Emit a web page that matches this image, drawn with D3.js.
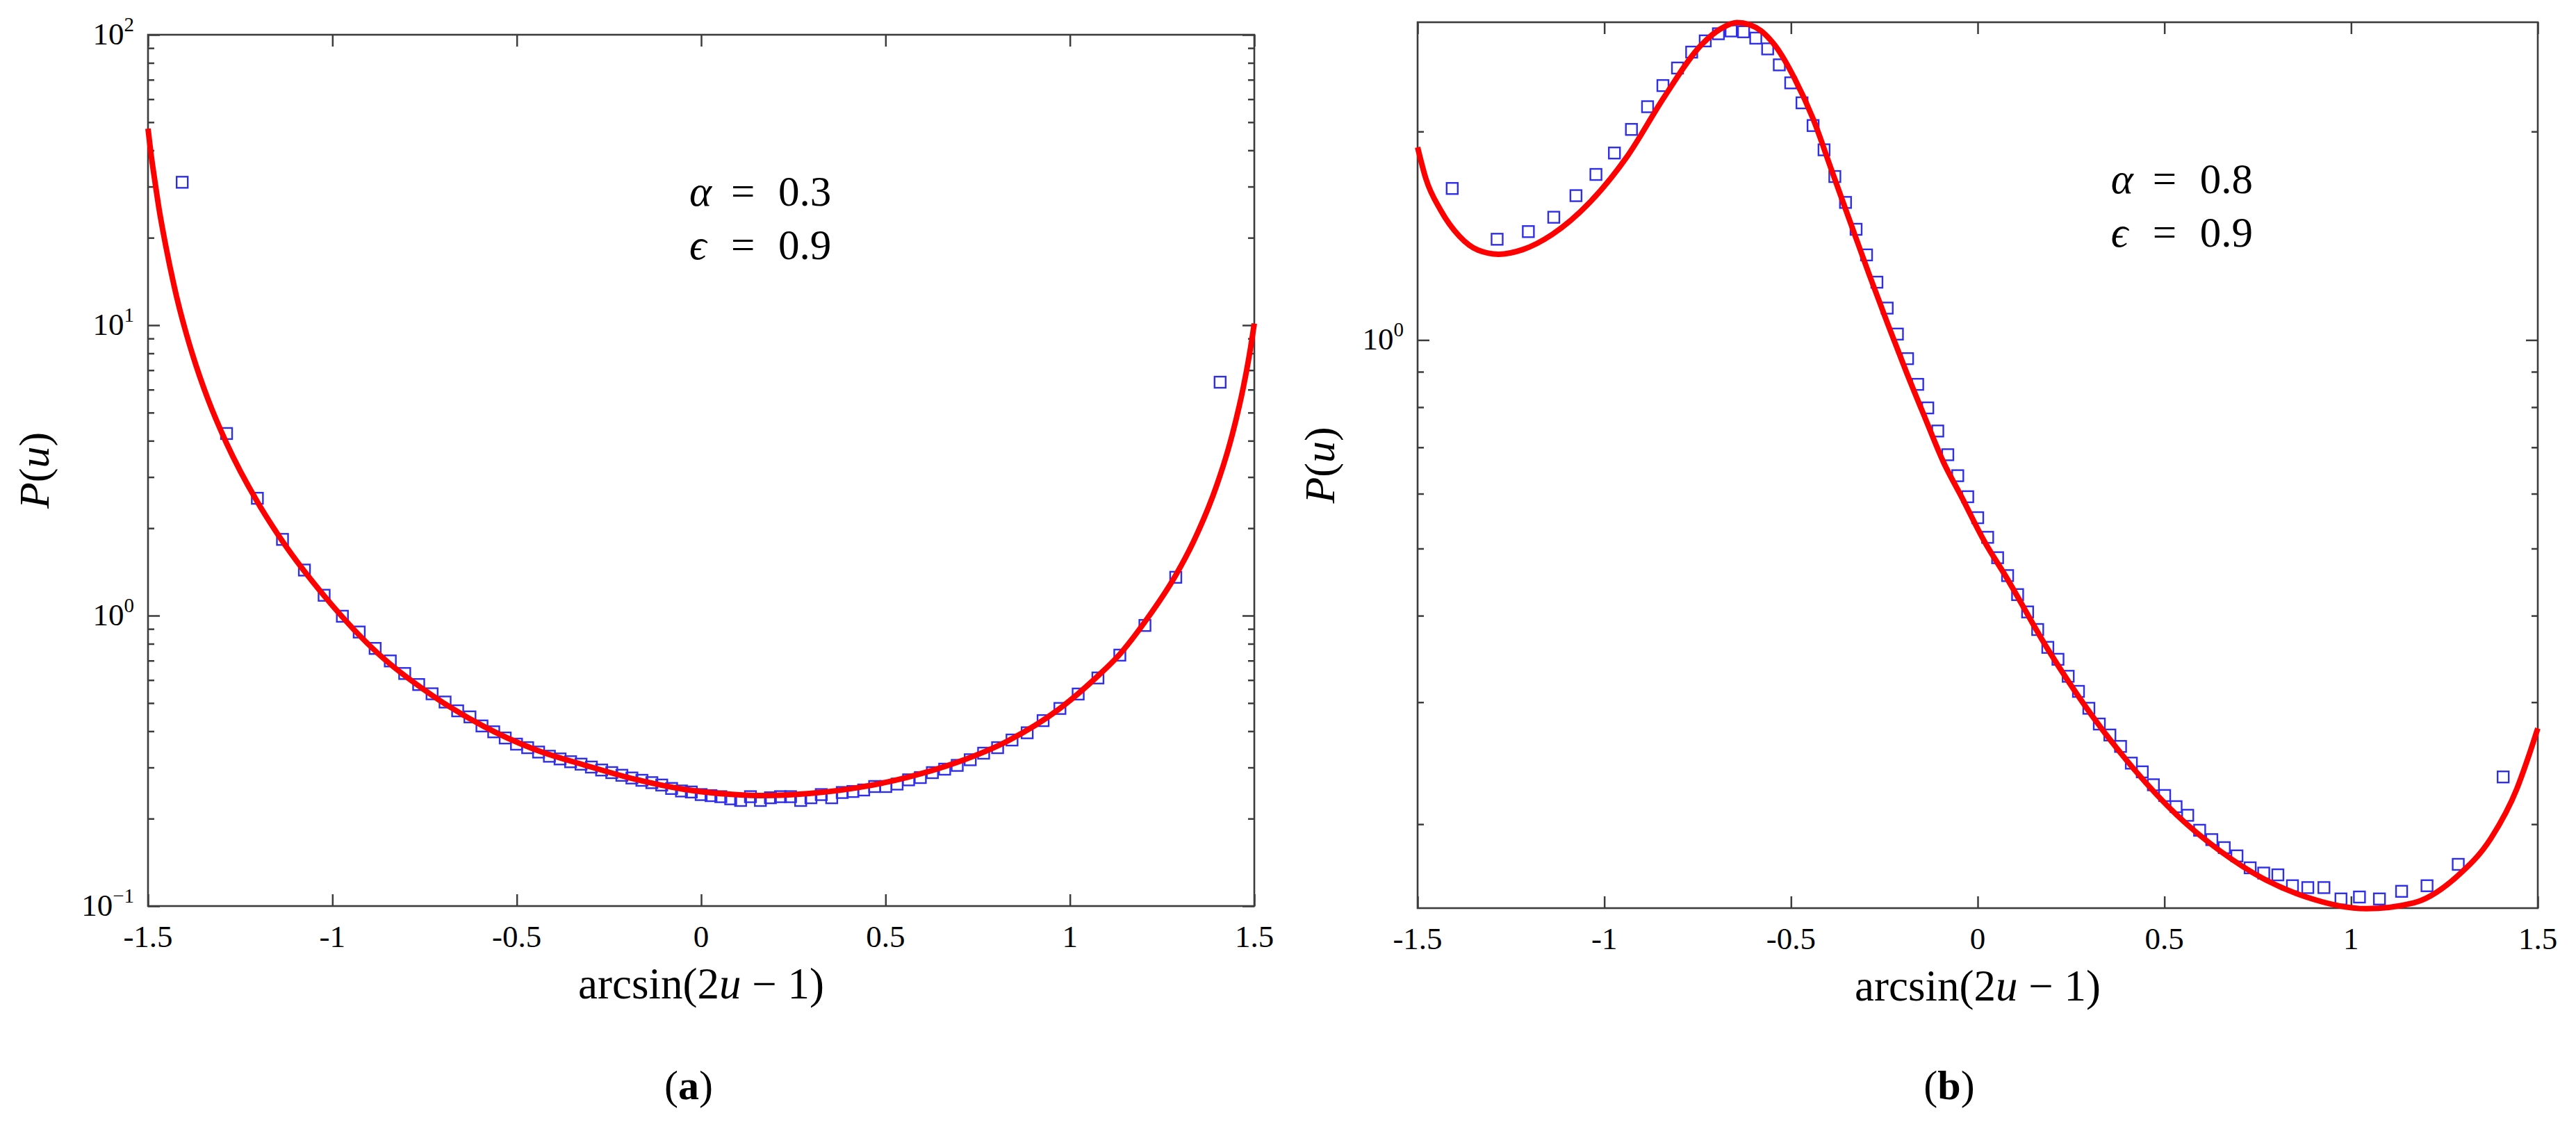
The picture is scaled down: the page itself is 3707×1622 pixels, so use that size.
<!DOCTYPE html>
<html>
<head>
<meta charset="utf-8">
<script src="https://cdn.jsdelivr.net/npm/d3@7"></script>
<style>
body { margin: 0; background: #ffffff; }
text { font-family: "Liberation Serif", "DejaVu Serif", serif; fill: #000000; }
</style>
</head>
<body>
<div id="chart"></div>
<script>
//bin centres on the arcsin(2u-1) axis, both panels use the same 75 bins
var binX = [-1.4073, -1.2870, -1.2034, -1.1353, -1.0759, -1.0224, -0.9729, -0.9273, -0.8841, -0.8430,
            -0.8039, -0.7660, -0.7297, -0.6944, -0.6603, -0.6270, -0.5944, -0.5625, -0.5313, -0.5007,
            -0.4705, -0.4408, -0.4115, -0.3826, -0.3540, -0.3257, -0.2977, -0.2699, -0.2424, -0.2150,
            -0.1878, -0.1607, -0.1337, -0.1069, -0.0801, -0.0534, -0.0267, 0,
            0.0267, 0.0534, 0.0801, 0.1069, 0.1337, 0.1607, 0.1878, 0.2150, 0.2424, 0.2699,
            0.2977, 0.3257, 0.3540, 0.3826, 0.4115, 0.4408, 0.4705, 0.5007, 0.5313, 0.5625,
            0.5944, 0.6270, 0.6603, 0.6944, 0.7297, 0.7660, 0.8039, 0.8430, 0.8841, 0.9273,
            0.9729, 1.0224, 1.0759, 1.1353, 1.2034, 1.2870, 1.4073]

//panel (a) squares, P(u)
var pointsA = [31.05, 4.236, 2.535, 1.830, 1.435, 1.175, 0.995, 0.878, 0.771, 0.698,
               0.632, 0.579, 0.538, 0.504, 0.470, 0.448, 0.417, 0.398, 0.379, 0.361,
               0.351, 0.339, 0.328, 0.321, 0.314, 0.308, 0.301, 0.294, 0.288, 0.282,
               0.276, 0.271, 0.266, 0.261, 0.254, 0.249, 0.247, 0.242, 0.240, 0.238,
               0.234, 0.231, 0.238, 0.231, 0.236, 0.238, 0.238, 0.231, 0.236, 0.242,
               0.236, 0.246, 0.248, 0.251, 0.258, 0.258, 0.263, 0.272, 0.277, 0.288,
               0.296, 0.305, 0.319, 0.336, 0.351, 0.373, 0.395, 0.435, 0.479, 0.537,
               0.610, 0.731, 0.925, 1.355, 6.363]

//panel (a) red theory curve
var curveAX = [-1.5, -1.49, -1.481, -1.47, -1.452, -1.43, -1.416, -1.40, -1.380, -1.337,
               -1.287, -1.204, -1.135, -1.020, -0.876, -0.731, -0.587, -0.448, -0.313, -0.178,
               -0.044, 0.091, 0.171, 0.293, 0.427, 0.562, 0.696, 0.831, 0.966, 1.070,
               1.133, 1.208, 1.286, 1.334, 1.397, 1.428, 1.44, 1.459, 1.47, 1.484,
               1.49, 1.5]
var curveAY = [47.5, 37.3, 31.1, 25.1, 18.8, 13.8, 11.6, 9.73, 7.98, 5.54,
               3.92, 2.47, 1.80, 1.16, 0.740, 0.533, 0.414, 0.345, 0.305, 0.273,
               0.252, 0.242, 0.240, 0.244, 0.256, 0.278, 0.313, 0.370, 0.472, 0.610,
               0.731, 0.970, 1.371, 1.786, 2.784, 3.690, 4.19, 5.25, 6.09, 7.55,
               8.38, 10.13]

//panel (b) squares
var pointsB = [1.655, 1.398, 1.434, 1.504, 1.616, 1.734, 1.862, 2.014, 2.172, 2.330,
               2.470, 2.604, 2.703, 2.768, 2.794, 2.786, 2.728, 2.632, 2.496, 2.351,
               2.200, 2.040, 1.882, 1.722, 1.580, 1.445, 1.327, 1.212, 1.112, 1.020,
               0.940, 0.863, 0.798, 0.739, 0.683, 0.637, 0.594, 0.554, 0.519, 0.485,
               0.457, 0.429, 0.405, 0.382, 0.360, 0.346, 0.327, 0.311, 0.294, 0.279,
               0.269, 0.259, 0.245, 0.238, 0.228, 0.220, 0.212, 0.206, 0.196, 0.190,
               0.185, 0.180, 0.173, 0.170, 0.169, 0.163, 0.162, 0.162, 0.156, 0.157,
               0.156, 0.160, 0.163, 0.175, 0.234]

//panel (b) red theory curve
var curveBX = [-1.5, -1.478, -1.438, -1.388, -1.338, -1.283, -1.218, -1.139, -1.039, -0.939,
               -0.839, -0.740, -0.690, -0.645, -0.610, -0.580, -0.540, -0.490, -0.441, -0.391,
               -0.341, -0.291, -0.241, -0.191, -0.141, -0.092, -0.042, 0.018, 0.074, 0.189,
               0.304, 0.419, 0.534, 0.649, 0.764, 0.880, 1.041, 1.168, 1.283, 1.375,
               1.444, 1.478, 1.5]
var curveBY = [1.898, 1.711, 1.539, 1.412, 1.348, 1.330, 1.351, 1.421, 1.580, 1.840,
               2.245, 2.668, 2.810, 2.872, 2.851, 2.794, 2.650, 2.383, 2.087, 1.757,
               1.478, 1.245, 1.055, 0.899, 0.772, 0.667, 0.592, 0.512, 0.457, 0.357,
               0.288, 0.240, 0.206, 0.183, 0.167, 0.157, 0.151, 0.154, 0.168, 0.191,
               0.225, 0.253, 0.275]

//tick values and labels
var xTicks = [-1.5, -1, -0.5, 0, 0.5, 1, 1.5]
var xTickLabels = ["-1.5", "-1", "-0.5", "0", "0.5", "1", "1.5"]
var yMajorA = [0.1, 1, 10, 100]
var yMajorLabelsA = ["\u22121", "0", "1", "2"]
var yMinorA = [0.2, 0.3, 0.4, 0.5, 0.6, 0.7, 0.8, 0.9, 2, 3, 4, 5, 6, 7, 8, 9, 20, 30, 40, 50, 60, 70, 80, 90]
var yMajorB = [1]
var yMajorLabelsB = ["0"]
var yMinorB = [0.2, 0.3, 0.4, 0.5, 0.6, 0.7, 0.8, 0.9, 2]

var axisColor = "#3c3c3c"

var svg = d3.select("#chart")
    .append("svg")
    .attr("width", 3707)
    .attr("height", 1622)

svg.append("rect").attr("width", 3707).attr("height", 1622).attr("fill", "#ffffff")

//draws one panel, box given in pixels
var drawPanel = function(cfg)
{
    var g = svg.append("g")

    var xScale = d3.scaleLinear()
                    .domain([-1.5, 1.5])
                    .range([cfg.left, cfg.right])

    var yScale = d3.scaleLog()
                    .domain(cfg.yDomain)
                    .range([cfg.bottom, cfg.top])

    //ticks point inwards on all four sides like matlab's box on
    g.append("g").attr("class", "axis")
    .attr("transform", "translate(0," + cfg.bottom + ")")
    .call(d3.axisBottom(xScale).tickValues(xTicks).tickSize(-17).tickFormat(""))

    g.append("g").attr("class", "axis")
    .attr("transform", "translate(0," + cfg.top + ")")
    .call(d3.axisTop(xScale).tickValues(xTicks).tickSize(-17).tickFormat(""))

    g.append("g").attr("class", "axis")
    .attr("transform", "translate(" + cfg.left + ",0)")
    .call(d3.axisLeft(yScale).tickValues(cfg.yMajor).tickSize(-17).tickFormat(""))

    g.append("g").attr("class", "axis")
    .attr("transform", "translate(" + cfg.left + ",0)")
    .call(d3.axisLeft(yScale).tickValues(cfg.yMinor).tickSize(-9).tickFormat(""))

    g.append("g").attr("class", "axis")
    .attr("transform", "translate(" + cfg.right + ",0)")
    .call(d3.axisRight(yScale).tickValues(cfg.yMajor).tickSize(-17).tickFormat(""))

    g.append("g").attr("class", "axis")
    .attr("transform", "translate(" + cfg.right + ",0)")
    .call(d3.axisRight(yScale).tickValues(cfg.yMinor).tickSize(-9).tickFormat(""))

    g.selectAll(".axis path.domain").remove()
    g.selectAll(".axis line")
    .attr("stroke", axisColor)
    .attr("stroke-width", 2.5)

    g.append("rect")
    .attr("x", cfg.left)
    .attr("y", cfg.top)
    .attr("width", cfg.right - cfg.left)
    .attr("height", cfg.bottom - cfg.top)
    .attr("fill", "none")
    .attr("stroke", axisColor)
    .attr("stroke-width", 2.6)

    //x tick labels
    g.selectAll("text.xtick")
    .data(xTicks)
    .enter()
    .append("text")
    .attr("class", "xtick")
    .attr("x", function(d) { return xScale(d) })
    .attr("y", cfg.bottom + 59)
    .attr("text-anchor", "middle")
    .style("font-size", "45px")
    .text(function(d, i) { return xTickLabels[i] })

    //y tick labels 10^k
    var ylab = g.selectAll("text.ytick")
    .data(cfg.yMajor)
    .enter()
    .append("text")
    .attr("class", "ytick")
    .attr("x", cfg.left - 20)
    .attr("y", function(d) { return yScale(d) + 14 })
    .attr("text-anchor", "end")
    .style("font-size", "45px")

    ylab.append("tspan").text("10")
    ylab.append("tspan")
    .attr("dy", -19)
    .style("font-size", "29px")
    .text(function(d, i) { return cfg.yMajorLabels[i] })

    //data squares
    g.selectAll("rect.pt")
    .data(d3.zip(binX, cfg.points))
    .enter()
    .append("rect")
    .attr("class", "pt")
    .attr("x", function(d) { return xScale(d[0]) - 8 })
    .attr("y", function(d) { return yScale(d[1]) - 8 })
    .attr("width", 16)
    .attr("height", 16)
    .attr("fill", "none")
    .attr("stroke", "#2f2fea")
    .attr("stroke-width", 2.4)

    //theory line on top
    var line = d3.line()
    .x(function(d) { return xScale(d[0]) })
    .y(function(d) { return yScale(d[1]) })
    .curve(d3.curveMonotoneX)

    g.append("path")
    .datum(d3.zip(cfg.curveX, cfg.curveY))
    .attr("d", line)
    .attr("fill", "none")
    .attr("stroke", "#ff0000")
    .attr("stroke-width", 8)

    //axis labels
    var xl = g.append("text")
    .attr("x", (cfg.left + cfg.right) / 2)
    .attr("y", cfg.bottom + 133)
    .attr("text-anchor", "middle")
    .style("font-size", "63px")
    xl.append("tspan").text("arcsin(2")
    xl.append("tspan").style("font-style", "italic").text("u")
    xl.append("tspan").text(" \u2212 1)")

    var yl = g.append("text")
    .attr("transform", "translate(" + cfg.ylabelX + "," + ((cfg.top + cfg.bottom) / 2) + ") rotate(-90)")
    .attr("text-anchor", "middle")
    .style("font-size", "62px")
    yl.append("tspan").style("font-style", "italic").text("P")
    yl.append("tspan").text("(")
    yl.append("tspan").style("font-style", "italic").text("u")
    yl.append("tspan").text(")")

    //parameter note
    var ax = xScale(cfg.noteX)
    var names = ["\u03b1", "\u03f5"]
    names.forEach(function(nm, i)
    {
        var t = g.append("text")
        .attr("y", cfg.top + 246 + i * 77)
        .style("font-size", "61px")
        t.append("tspan").attr("x", ax).style("font-style", "italic").text(nm)
        t.append("tspan").attr("x", ax + 60).text("=")
        t.append("tspan").attr("x", ax + 128).text(cfg.notes[i])
    })

    //(a) / (b) caption
    var cap = svg.append("text")
    .attr("x", cfg.capX)
    .attr("y", 1582)
    .attr("text-anchor", "middle")
    .style("font-size", "60px")
    cap.append("tspan").text("(")
    cap.append("tspan").style("font-weight", "bold").text(cfg.cap)
    cap.append("tspan").text(")")
}

drawPanel({
    left: 213, right: 1805, top: 50, bottom: 1304,
    yDomain: [0.1, 100],
    yMajor: yMajorA, yMajorLabels: yMajorLabelsA, yMinor: yMinorA,
    points: pointsA, curveX: curveAX, curveY: curveAY,
    ylabelX: 70, noteX: -0.032, notes: ["0.3", "0.9"],
    capX: 991, cap: "a"
})

drawPanel({
    left: 2040, right: 3652, top: 32, bottom: 1307,
    yDomain: [0.1513, 2.876],
    yMajor: yMajorB, yMajorLabels: yMajorLabelsB, yMinor: yMinorB,
    points: pointsB, curveX: curveBX, curveY: curveBY,
    ylabelX: 1920, noteX: 0.357, notes: ["0.8", "0.9"],
    capX: 2805, cap: "b"
})
</script>
</body>
</html>
